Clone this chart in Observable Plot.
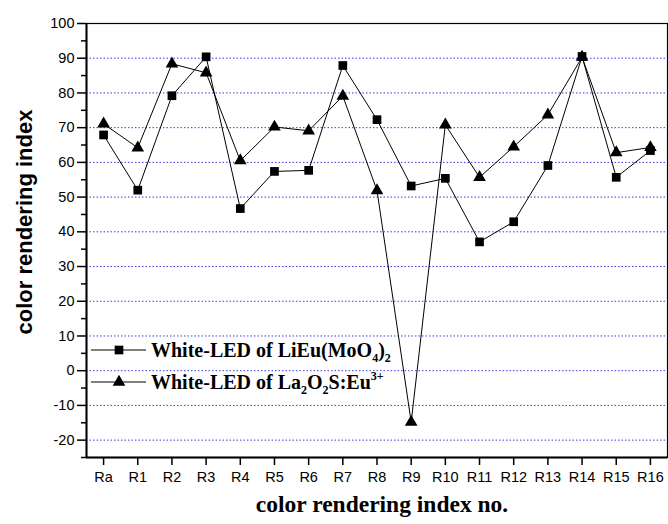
<!DOCTYPE html>
<html><head><meta charset="utf-8">
<script src="https://cdn.jsdelivr.net/npm/d3@7"></script>
<script src="https://cdn.jsdelivr.net/npm/@observablehq/plot@0.6"></script>
<style>body{margin:0;background:#fff}#chart{width:668px;height:524px}</style>
</head><body><div id="chart"></div>
<script>
const categories = ["Ra","R1","R2","R3","R4","R5","R6","R7","R8","R9","R10","R11","R12","R13","R14","R15","R16"];
const lieuValues = [67.9, 52.0, 79.2, 90.4, 46.7, 57.4, 57.7, 87.9, 72.3, 53.2, 55.4, 37.1, 42.9, 59.1, 90.5, 55.7, 63.4];
const la2o2sValues = [71.1, 64.2, 88.4, 85.8, 60.5, 70.2, 69.1, 79.1, 51.9, -14.8, 70.8, 55.7, 64.5, 73.7, 90.3, 62.8, 64.3];
const yMajorTicks = [-20,-10,0,10,20,30,40,50,60,70,80,90,100];
const yMinorTicks = [-25,-15,-5,5,15,25,35,45,55,65,75,85,95];
const gridValues = [-20,-10,0,10,20,30,40,50,60,70,80,90];
const yTitle = "color rendering index";
const xTitle = "color rendering index no.";

const idx = categories.map((_, i) => i);
const lieu = idx.map(i => ({i, v: lieuValues[i]}));
const la = idx.map(i => ({i, v: la2o2sValues[i]}));

const chart = Plot.plot({
  width: 668, height: 524,
  marginLeft: 86, marginRight: 1, marginTop: 23, marginBottom: 67,
  style: {fontFamily: "Liberation Sans, Arial, sans-serif", background: "#fff", color: "#000"},
  x: {type: "linear", domain: [-0.5, 16.5]},
  y: {domain: [-25, 100]},
  marks: [
    Plot.ruleY(gridValues, {stroke: "#3a3adc", strokeWidth: 1, strokeDasharray: "1.5,2"}),
    Plot.axisY({ticks: yMajorTicks, tickSize: 9, tickPadding: 3, fontSize: 14.5, label: null, tickFormat: d => String(d), strokeWidth: 1.5}),
    Plot.axisY({ticks: yMinorTicks, tickSize: 5, text: null, label: null, strokeWidth: 1.5}),
    Plot.axisX({ticks: idx, tickSize: 8, tickPadding: 6, fontSize: 14.5, label: null, tickFormat: i => categories[i], strokeWidth: 1.5}),
    Plot.line(lieu, {x: "i", y: "v", stroke: "#000", strokeWidth: 1}),
    Plot.line(la, {x: "i", y: "v", stroke: "#000", strokeWidth: 1}),
    Plot.dot(la, {x: "i", y: "v", symbol: "triangle", r: 4.7, fill: "#000", stroke: "none"}),
    Plot.dot(lieu, {x: "i", y: "v", symbol: "square", r: 4.9, fill: "#000", stroke: "none"}),
    Plot.frame({stroke: "#000", strokeWidth: 1.2}),
    Plot.ruleX([-0.5], {stroke: "#000", strokeWidth: 2}),
    Plot.ruleY([-25], {stroke: "#000", strokeWidth: 2}),
    Plot.text([xTitle], {frameAnchor: "bottom", dx: 5, dy: 54, fontSize: 23.5, fontWeight: "bold", fontFamily: "Liberation Serif, Times New Roman, serif", fill: "#000"})
  ]
});
document.getElementById("chart").appendChild(chart);

const svg = d3.select(chart);
// y title
svg.append("text").attr("transform", "translate(24,222) rotate(-90)")
  .attr("text-anchor", "middle").attr("dy", "0.36em")
  .attr("font-size", 22).attr("font-weight", "bold").attr("fill", "#000")
  .attr("font-family", "Liberation Sans, Arial, sans-serif").text(yTitle);

// legend
const lg = svg.append("g").attr("font-family", "Liberation Serif, Times New Roman, serif").attr("font-weight", "bold").attr("text-anchor", "start");
const rows = [
  {y: 350, sym: d3.symbolSquare, size: Math.PI * 4.9 * 4.9, parts: [["White-LED of LiEu(MoO", 0], ["4", 1], [")", 0], ["2", 1]]},
  {y: 382, sym: d3.symbolTriangle, size: Math.PI * 4.7 * 4.7, parts: [["White-LED of La", 0], ["2", 1], ["O", 0], ["2", 1], ["S:Eu", 0], ["3+", -1]]}
];
rows.forEach(r => {
  lg.append("line").attr("x1", 91).attr("x2", 146).attr("y1", r.y).attr("y2", r.y).attr("stroke", "#000").attr("stroke-width", 1);
  lg.append("path").attr("d", d3.symbol(r.sym, r.size)()).attr("transform", `translate(119,${r.y})`).attr("fill", "#000");
  const t = lg.append("text").attr("x", 151).attr("y", r.y + 7).attr("font-size", 20).attr("fill", "#000");
  r.parts.forEach(([s, k]) => {
    const ts = t.append("tspan").text(s);
    if (k === 1) ts.attr("font-size", 12).attr("baseline-shift", "-45%");
    if (k === -1) ts.attr("font-size", 12).attr("baseline-shift", "75%");
  });
});
</script></body></html>
